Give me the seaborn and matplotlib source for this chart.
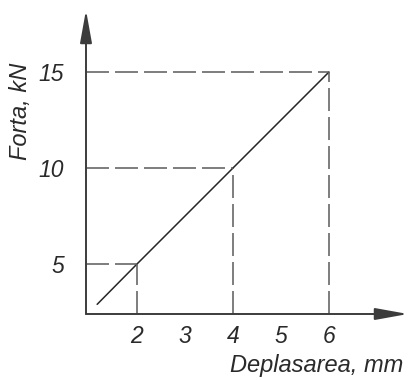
import matplotlib
matplotlib.use("Agg")
import matplotlib.pyplot as plt
import seaborn as sns

# ---- data ----
disp = [1.17, 2, 4, 6]          # Deplasarea, mm
force = [2.9, 5, 10, 15]        # Forta, kN
guide_x = [2, 4, 6]
guide_y = [5, 10, 15]
xtick_vals = [2, 3, 4, 5, 6]
xtick_labels = ["2", "3", "4", "5", "6"]
ytick_vals = [5, 7.5, 10, 12.5, 15]
ytick_labels = ["5", "", "10", "", "15"]
xlabel = "Deplasarea, mm"
ylabel = "Forta, kN"

sns.set_style("white")
plt.rcParams["font.family"] = ["Liberation Sans", "DejaVu Sans"]
plt.rcParams["font.style"] = "italic"

W, H = 408, 380
fig = plt.figure(figsize=(W / 100, H / 100), dpi=100)
ax = fig.add_axes([86 / W, 66 / H, 322 / W, 304 / H])

x0, x1 = 0.9375, 7.646
y0, y1 = 2.396, 18.229
ax.set_xlim(x0, x1)
ax.set_ylim(y0, y1)

axis_col = "#3c3c3c"
line_col = "#262626"
dash_col = "#5a5a5a"
text_col = "#2a2a2a"

# main line
sns.lineplot(x=disp, y=force, ax=ax, color=line_col, linewidth=1.1)

# dashed guide lines
lw = 1.1
ls = (0, (23 / 1.389 / lw, 6 / 1.389 / lw))
ax.hlines(guide_y, xmin=x0, xmax=guide_x, colors=dash_col, linewidth=lw, linestyles=[ls])
ax.vlines(guide_x, ymin=y0, ymax=guide_y, colors=dash_col, linewidth=lw, linestyles=[ls])

# axes with arrows
for s in ax.spines.values():
    s.set_visible(False)
arrow = dict(arrowstyle="-|>,head_length=2.0,head_width=0.36", mutation_scale=10,
             color=axis_col, linewidth=1.4, shrinkA=0, shrinkB=0)
ax.annotate("", xy=(1, 0), xytext=(0, 0), xycoords="axes fraction",
            textcoords="axes fraction", arrowprops=arrow)
ax.annotate("", xy=(0, 1), xytext=(0, 0), xycoords="axes fraction",
            textcoords="axes fraction", arrowprops=arrow)

ax.set_xticks(xtick_vals, xtick_labels)
ax.set_yticks(ytick_vals, ytick_labels)
ax.tick_params(direction="in", length=11, width=1.2, color=axis_col,
               labelsize=16.5, labelcolor=text_col)
ax.tick_params(axis="x", pad=8)
ax.tick_params(axis="y", pad=16)

ax.set_xlabel(xlabel, fontsize=17, color=text_col, ha="right", va="baseline")
ax.xaxis.set_label_coords(0.984, -0.19)
ax.set_ylabel(ylabel, fontsize=17, color=text_col, ha="center", va="center",
              rotation=90, rotation_mode="anchor")
ax.yaxis.set_label_coords(-0.202, 0.668)

fig.savefig("out.png", dpi=100)
